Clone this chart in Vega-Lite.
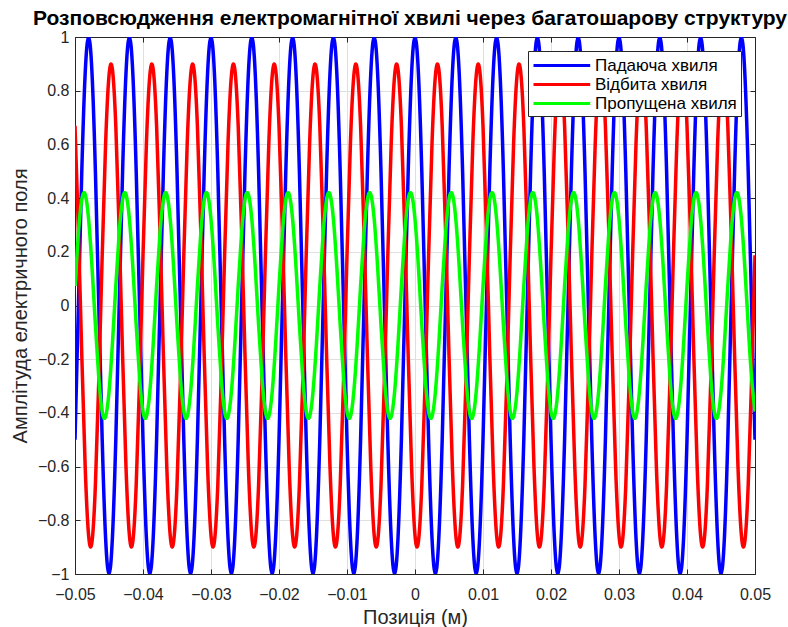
{
"$schema":"https://vega.github.io/schema/vega-lite/v6.json",
"width":680,"height":537,
"autosize":{"type":"none"},
"padding":{"left":75,"top":37,"right":33,"bottom":53},
"background":"white",
"title":{"text":"Розповсюдження електромагнітної хвилі через багатошарову структуру","fontSize":21,"fontWeight":"bold","font":"Liberation Sans","color":"black","anchor":"middle","offset":0,"dx":-5},
"data":{"values":[
{"x":-0.05,"a":-0.5,"b":0.669,"c":0.073},
{"x":-0.0495,"a":0,"b":0.278,"c":0.27},
{"x":-0.049,"a":0.5,"b":-0.187,"c":0.395},
{"x":-0.0485,"a":0.866,"b":-0.602,"c":0.414},
{"x":-0.048,"a":1,"b":-0.856,"c":0.322},
{"x":-0.0475,"a":0.866,"b":-0.88,"c":0.144},
{"x":-0.047,"a":0.5,"b":-0.669,"c":-0.073},
{"x":-0.0465,"a":0,"b":-0.278,"c":-0.27},
{"x":-0.046,"a":-0.5,"b":0.187,"c":-0.395},
{"x":-0.0455,"a":-0.866,"b":0.602,"c":-0.414},
{"x":-0.045,"a":-1,"b":0.856,"c":-0.322},
{"x":-0.0445,"a":-0.866,"b":0.88,"c":-0.144},
{"x":-0.044,"a":-0.5,"b":0.669,"c":0.073},
{"x":-0.0435,"a":0,"b":0.278,"c":0.27},
{"x":-0.043,"a":0.5,"b":-0.187,"c":0.395},
{"x":-0.0425,"a":0.866,"b":-0.602,"c":0.414},
{"x":-0.042,"a":1,"b":-0.856,"c":0.322},
{"x":-0.0415,"a":0.866,"b":-0.88,"c":0.144},
{"x":-0.041,"a":0.5,"b":-0.669,"c":-0.073},
{"x":-0.0405,"a":0,"b":-0.278,"c":-0.27},
{"x":-0.04,"a":-0.5,"b":0.187,"c":-0.395},
{"x":-0.0395,"a":-0.866,"b":0.602,"c":-0.414},
{"x":-0.039,"a":-1,"b":0.856,"c":-0.322},
{"x":-0.0385,"a":-0.866,"b":0.88,"c":-0.144},
{"x":-0.038,"a":-0.5,"b":0.669,"c":0.073},
{"x":-0.0375,"a":0,"b":0.278,"c":0.27},
{"x":-0.037,"a":0.5,"b":-0.187,"c":0.395},
{"x":-0.0365,"a":0.866,"b":-0.602,"c":0.414},
{"x":-0.036,"a":1,"b":-0.856,"c":0.322},
{"x":-0.0355,"a":0.866,"b":-0.88,"c":0.144},
{"x":-0.035,"a":0.5,"b":-0.669,"c":-0.073},
{"x":-0.0345,"a":0,"b":-0.278,"c":-0.27},
{"x":-0.034,"a":-0.5,"b":0.187,"c":-0.395},
{"x":-0.0335,"a":-0.866,"b":0.602,"c":-0.414},
{"x":-0.033,"a":-1,"b":0.856,"c":-0.322},
{"x":-0.0325,"a":-0.866,"b":0.88,"c":-0.144},
{"x":-0.032,"a":-0.5,"b":0.669,"c":0.073},
{"x":-0.0315,"a":0,"b":0.278,"c":0.27},
{"x":-0.031,"a":0.5,"b":-0.187,"c":0.395},
{"x":-0.0305,"a":0.866,"b":-0.602,"c":0.414},
{"x":-0.03,"a":1,"b":-0.856,"c":0.322},
{"x":-0.0295,"a":0.866,"b":-0.88,"c":0.144},
{"x":-0.029,"a":0.5,"b":-0.669,"c":-0.073},
{"x":-0.0285,"a":0,"b":-0.278,"c":-0.27},
{"x":-0.028,"a":-0.5,"b":0.187,"c":-0.395},
{"x":-0.0275,"a":-0.866,"b":0.602,"c":-0.414},
{"x":-0.027,"a":-1,"b":0.856,"c":-0.322},
{"x":-0.0265,"a":-0.866,"b":0.88,"c":-0.144},
{"x":-0.026,"a":-0.5,"b":0.669,"c":0.073},
{"x":-0.0255,"a":0,"b":0.278,"c":0.27},
{"x":-0.025,"a":0.5,"b":-0.187,"c":0.395},
{"x":-0.0245,"a":0.866,"b":-0.602,"c":0.414},
{"x":-0.024,"a":1,"b":-0.856,"c":0.322},
{"x":-0.0235,"a":0.866,"b":-0.88,"c":0.144},
{"x":-0.023,"a":0.5,"b":-0.669,"c":-0.073},
{"x":-0.0225,"a":0,"b":-0.278,"c":-0.27},
{"x":-0.022,"a":-0.5,"b":0.187,"c":-0.395},
{"x":-0.0215,"a":-0.866,"b":0.602,"c":-0.414},
{"x":-0.021,"a":-1,"b":0.856,"c":-0.322},
{"x":-0.0205,"a":-0.866,"b":0.88,"c":-0.144},
{"x":-0.02,"a":-0.5,"b":0.669,"c":0.073},
{"x":-0.0195,"a":0,"b":0.278,"c":0.27},
{"x":-0.019,"a":0.5,"b":-0.187,"c":0.395},
{"x":-0.0185,"a":0.866,"b":-0.602,"c":0.414},
{"x":-0.018,"a":1,"b":-0.856,"c":0.322},
{"x":-0.0175,"a":0.866,"b":-0.88,"c":0.144},
{"x":-0.017,"a":0.5,"b":-0.669,"c":-0.073},
{"x":-0.0165,"a":0,"b":-0.278,"c":-0.27},
{"x":-0.016,"a":-0.5,"b":0.187,"c":-0.395},
{"x":-0.0155,"a":-0.866,"b":0.602,"c":-0.414},
{"x":-0.015,"a":-1,"b":0.856,"c":-0.322},
{"x":-0.0145,"a":-0.866,"b":0.88,"c":-0.144},
{"x":-0.014,"a":-0.5,"b":0.669,"c":0.073},
{"x":-0.0135,"a":0,"b":0.278,"c":0.27},
{"x":-0.013,"a":0.5,"b":-0.187,"c":0.395},
{"x":-0.0125,"a":0.866,"b":-0.602,"c":0.414},
{"x":-0.012,"a":1,"b":-0.856,"c":0.322},
{"x":-0.0115,"a":0.866,"b":-0.88,"c":0.144},
{"x":-0.011,"a":0.5,"b":-0.669,"c":-0.073},
{"x":-0.0105,"a":0,"b":-0.278,"c":-0.27},
{"x":-0.01,"a":-0.5,"b":0.187,"c":-0.395},
{"x":-0.0095,"a":-0.866,"b":0.602,"c":-0.414},
{"x":-0.009,"a":-1,"b":0.856,"c":-0.322},
{"x":-0.0085,"a":-0.866,"b":0.88,"c":-0.144},
{"x":-0.008,"a":-0.5,"b":0.669,"c":0.073},
{"x":-0.0075,"a":0,"b":0.278,"c":0.27},
{"x":-0.007,"a":0.5,"b":-0.187,"c":0.395},
{"x":-0.0065,"a":0.866,"b":-0.602,"c":0.414},
{"x":-0.006,"a":1,"b":-0.856,"c":0.322},
{"x":-0.0055,"a":0.866,"b":-0.88,"c":0.144},
{"x":-0.005,"a":0.5,"b":-0.669,"c":-0.073},
{"x":-0.0045,"a":0,"b":-0.278,"c":-0.27},
{"x":-0.004,"a":-0.5,"b":0.187,"c":-0.395},
{"x":-0.0035,"a":-0.866,"b":0.602,"c":-0.414},
{"x":-0.003,"a":-1,"b":0.856,"c":-0.322},
{"x":-0.0025,"a":-0.866,"b":0.88,"c":-0.144},
{"x":-0.002,"a":-0.5,"b":0.669,"c":0.073},
{"x":-0.0015,"a":0,"b":0.278,"c":0.27},
{"x":-0.001,"a":0.5,"b":-0.187,"c":0.395},
{"x":-0.0005,"a":0.866,"b":-0.602,"c":0.414},
{"x":0,"a":1,"b":-0.856,"c":0.322},
{"x":0.0005,"a":0.866,"b":-0.88,"c":0.144},
{"x":0.001,"a":0.5,"b":-0.669,"c":-0.073},
{"x":0.0015,"a":0,"b":-0.278,"c":-0.27},
{"x":0.002,"a":-0.5,"b":0.187,"c":-0.395},
{"x":0.0025,"a":-0.866,"b":0.602,"c":-0.414},
{"x":0.003,"a":-1,"b":0.856,"c":-0.322},
{"x":0.0035,"a":-0.866,"b":0.88,"c":-0.144},
{"x":0.004,"a":-0.5,"b":0.669,"c":0.073},
{"x":0.0045,"a":0,"b":0.278,"c":0.27},
{"x":0.005,"a":0.5,"b":-0.187,"c":0.395},
{"x":0.0055,"a":0.866,"b":-0.602,"c":0.414},
{"x":0.006,"a":1,"b":-0.856,"c":0.322},
{"x":0.0065,"a":0.866,"b":-0.88,"c":0.144},
{"x":0.007,"a":0.5,"b":-0.669,"c":-0.073},
{"x":0.0075,"a":0,"b":-0.278,"c":-0.27},
{"x":0.008,"a":-0.5,"b":0.187,"c":-0.395},
{"x":0.0085,"a":-0.866,"b":0.602,"c":-0.414},
{"x":0.009,"a":-1,"b":0.856,"c":-0.322},
{"x":0.0095,"a":-0.866,"b":0.88,"c":-0.144},
{"x":0.01,"a":-0.5,"b":0.669,"c":0.073},
{"x":0.0105,"a":0,"b":0.278,"c":0.27},
{"x":0.011,"a":0.5,"b":-0.187,"c":0.395},
{"x":0.0115,"a":0.866,"b":-0.602,"c":0.414},
{"x":0.012,"a":1,"b":-0.856,"c":0.322},
{"x":0.0125,"a":0.866,"b":-0.88,"c":0.144},
{"x":0.013,"a":0.5,"b":-0.669,"c":-0.073},
{"x":0.0135,"a":0,"b":-0.278,"c":-0.27},
{"x":0.014,"a":-0.5,"b":0.187,"c":-0.395},
{"x":0.0145,"a":-0.866,"b":0.602,"c":-0.414},
{"x":0.015,"a":-1,"b":0.856,"c":-0.322},
{"x":0.0155,"a":-0.866,"b":0.88,"c":-0.144},
{"x":0.016,"a":-0.5,"b":0.669,"c":0.073},
{"x":0.0165,"a":0,"b":0.278,"c":0.27},
{"x":0.017,"a":0.5,"b":-0.187,"c":0.395},
{"x":0.0175,"a":0.866,"b":-0.602,"c":0.414},
{"x":0.018,"a":1,"b":-0.856,"c":0.322},
{"x":0.0185,"a":0.866,"b":-0.88,"c":0.144},
{"x":0.019,"a":0.5,"b":-0.669,"c":-0.073},
{"x":0.0195,"a":0,"b":-0.278,"c":-0.27},
{"x":0.02,"a":-0.5,"b":0.187,"c":-0.395},
{"x":0.0205,"a":-0.866,"b":0.602,"c":-0.414},
{"x":0.021,"a":-1,"b":0.856,"c":-0.322},
{"x":0.0215,"a":-0.866,"b":0.88,"c":-0.144},
{"x":0.022,"a":-0.5,"b":0.669,"c":0.073},
{"x":0.0225,"a":0,"b":0.278,"c":0.27},
{"x":0.023,"a":0.5,"b":-0.187,"c":0.395},
{"x":0.0235,"a":0.866,"b":-0.602,"c":0.414},
{"x":0.024,"a":1,"b":-0.856,"c":0.322},
{"x":0.0245,"a":0.866,"b":-0.88,"c":0.144},
{"x":0.025,"a":0.5,"b":-0.669,"c":-0.073},
{"x":0.0255,"a":0,"b":-0.278,"c":-0.27},
{"x":0.026,"a":-0.5,"b":0.187,"c":-0.395},
{"x":0.0265,"a":-0.866,"b":0.602,"c":-0.414},
{"x":0.027,"a":-1,"b":0.856,"c":-0.322},
{"x":0.0275,"a":-0.866,"b":0.88,"c":-0.144},
{"x":0.028,"a":-0.5,"b":0.669,"c":0.073},
{"x":0.0285,"a":0,"b":0.278,"c":0.27},
{"x":0.029,"a":0.5,"b":-0.187,"c":0.395},
{"x":0.0295,"a":0.866,"b":-0.602,"c":0.414},
{"x":0.03,"a":1,"b":-0.856,"c":0.322},
{"x":0.0305,"a":0.866,"b":-0.88,"c":0.144},
{"x":0.031,"a":0.5,"b":-0.669,"c":-0.073},
{"x":0.0315,"a":0,"b":-0.278,"c":-0.27},
{"x":0.032,"a":-0.5,"b":0.187,"c":-0.395},
{"x":0.0325,"a":-0.866,"b":0.602,"c":-0.414},
{"x":0.033,"a":-1,"b":0.856,"c":-0.322},
{"x":0.0335,"a":-0.866,"b":0.88,"c":-0.144},
{"x":0.034,"a":-0.5,"b":0.669,"c":0.073},
{"x":0.0345,"a":0,"b":0.278,"c":0.27},
{"x":0.035,"a":0.5,"b":-0.187,"c":0.395},
{"x":0.0355,"a":0.866,"b":-0.602,"c":0.414},
{"x":0.036,"a":1,"b":-0.856,"c":0.322},
{"x":0.0365,"a":0.866,"b":-0.88,"c":0.144},
{"x":0.037,"a":0.5,"b":-0.669,"c":-0.073},
{"x":0.0375,"a":0,"b":-0.278,"c":-0.27},
{"x":0.038,"a":-0.5,"b":0.187,"c":-0.395},
{"x":0.0385,"a":-0.866,"b":0.602,"c":-0.414},
{"x":0.039,"a":-1,"b":0.856,"c":-0.322},
{"x":0.0395,"a":-0.866,"b":0.88,"c":-0.144},
{"x":0.04,"a":-0.5,"b":0.669,"c":0.073},
{"x":0.0405,"a":0,"b":0.278,"c":0.27},
{"x":0.041,"a":0.5,"b":-0.187,"c":0.395},
{"x":0.0415,"a":0.866,"b":-0.602,"c":0.414},
{"x":0.042,"a":1,"b":-0.856,"c":0.322},
{"x":0.0425,"a":0.866,"b":-0.88,"c":0.144},
{"x":0.043,"a":0.5,"b":-0.669,"c":-0.073},
{"x":0.0435,"a":0,"b":-0.278,"c":-0.27},
{"x":0.044,"a":-0.5,"b":0.187,"c":-0.395},
{"x":0.0445,"a":-0.866,"b":0.602,"c":-0.414},
{"x":0.045,"a":-1,"b":0.856,"c":-0.322},
{"x":0.0455,"a":-0.866,"b":0.88,"c":-0.144},
{"x":0.046,"a":-0.5,"b":0.669,"c":0.073},
{"x":0.0465,"a":0,"b":0.278,"c":0.27},
{"x":0.047,"a":0.5,"b":-0.187,"c":0.395},
{"x":0.0475,"a":0.866,"b":-0.602,"c":0.414},
{"x":0.048,"a":1,"b":-0.856,"c":0.322},
{"x":0.0485,"a":0.866,"b":-0.88,"c":0.144},
{"x":0.049,"a":0.5,"b":-0.669,"c":-0.073},
{"x":0.0495,"a":0,"b":-0.278,"c":-0.27},
{"x":0.05,"a":-0.5,"b":0.187,"c":-0.395}
]},
"layer":[
{"transform":[{"fold":["a","b","c"],"as":["s","v"]}],
 "mark":{"type":"line","strokeWidth":3.5,"interpolate":"natural","clip":true},
 "encoding":{
  "x":{"field":"x","type":"quantitative","scale":{"domain":[-0.05,0.05],"nice":false,"zero":false},
       "axis":{"values":[-0.05,-0.04,-0.03,-0.02,-0.01,0,0.01,0.02,0.03,0.04,0.05],"format":"~g","title":"Позиція (м)","grid":true,"titlePadding":5,"labelPadding":17,"labelFlush":false}},
  "y":{"field":"v","type":"quantitative","scale":{"domain":[-1,1],"nice":false,"zero":false},
       "axis":{"values":[-1,-0.8,-0.6,-0.4,-0.2,0,0.2,0.4,0.6,0.8,1],"format":"~g","title":"Амплітуда електричного поля","grid":true,"titlePadding":7,"labelPadding":11,"labelFlush":false}},
  "color":{"field":"s","type":"nominal","scale":{"domain":["a","b","c"],"range":["#0000ff","#ff0000","#00ff00"]},
       "legend":{"title":null,"orient":"top-right","offset":14,"fillColor":"white","strokeColor":"#262626","padding":4,"labelFontSize":17,"labelColor":"black","labelFont":"Liberation Sans","symbolType":"M-1,0H5.3","symbolStrokeWidth":3,"symbolSize":324,"rowPadding":0,"labelOffset":42,"cornerRadius":0,
       "labelExpr":"datum.value=='a'?'Падаюча хвиля':datum.value=='b'?'Відбита хвиля':'Пропущена хвиля'"}}
 }},
{"mark":{"type":"line","opacity":0},
 "encoding":{
  "x":{"field":"x","type":"quantitative","scale":{"domain":[-0.05,0.05],"nice":false,"zero":false},
       "axis":{"orient":"top","values":[-0.05,-0.04,-0.03,-0.02,-0.01,0,0.01,0.02,0.03,0.04,0.05],"labels":false,"title":null,"grid":false}},
  "y":{"field":"a","type":"quantitative","scale":{"domain":[-1,1],"nice":false,"zero":false},
       "axis":{"orient":"right","values":[-1,-0.8,-0.6,-0.4,-0.2,0,0.2,0.4,0.6,0.8,1],"labels":false,"title":null,"grid":false}}
 }}
],
"resolve":{"axis":{"x":"independent","y":"independent"}},
"config":{
 "font":"Liberation Sans",
 "view":{"stroke":"#262626","strokeWidth":1},
 "axis":{"labelFont":"Liberation Sans","labelFontSize":16,"labelColor":"#262626","titleFont":"Liberation Sans","titleFontSize":20,"titleColor":"#262626","titleFontWeight":"normal","domainColor":"#262626","tickColor":"#262626","gridColor":"#dfdfdf","gridWidth":1,"tickSize":-5,"labelPadding":8}
}
}
